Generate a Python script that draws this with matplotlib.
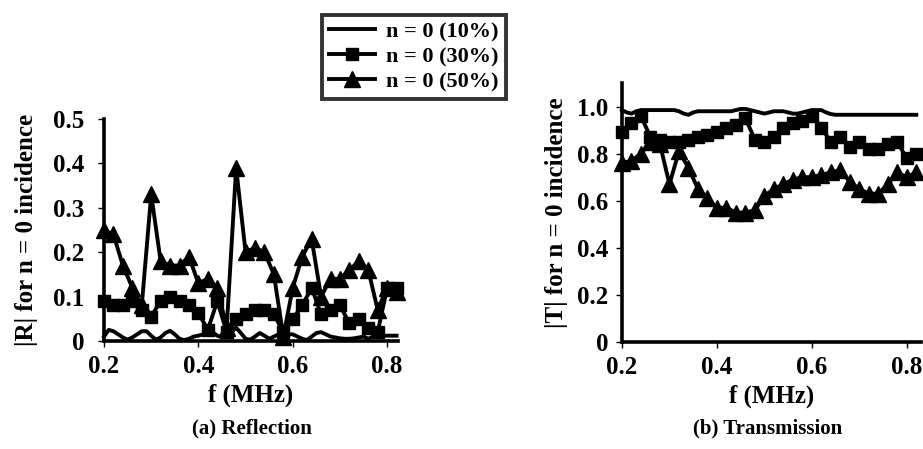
import numpy as np
import matplotlib
matplotlib.use("Agg")
import matplotlib.pyplot as plt

plt.rcParams['font.family'] = ['Liberation Serif', 'DejaVu Serif']
plt.rcParams['font.weight'] = 'bold'

# ---- data ----
f_fine = [0.20, 0.21, 0.22, 0.23, 0.24, 0.25, 0.26, 0.27, 0.28, 0.29, 0.30, 0.31,
          0.32, 0.33, 0.34, 0.35, 0.36, 0.37, 0.38, 0.39, 0.40, 0.41, 0.42, 0.43,
          0.44, 0.45, 0.46, 0.47, 0.48, 0.49, 0.50, 0.51, 0.52, 0.53, 0.54, 0.55,
          0.56, 0.57, 0.58, 0.59, 0.60, 0.61, 0.62, 0.63, 0.64, 0.65, 0.66, 0.67,
          0.68, 0.69, 0.70, 0.71, 0.72, 0.73, 0.74, 0.75, 0.76, 0.77, 0.78, 0.79,
          0.80, 0.81, 0.82]
R10 = [0.010, 0.025, 0.022, 0.015, 0.008, 0.003, 0.008, 0.015, 0.022, 0.022, 0.012, 0.003,
       0.008, 0.018, 0.023, 0.015, 0.005, 0.002, 0.005, 0.010, 0.012, 0.015, 0.020, 0.020,
       0.012, 0.008, 0.010, 0.020, 0.030, 0.018, 0.005, 0.003, 0.010, 0.018, 0.012, 0.005,
       0.010, 0.015, 0.010, 0.015, 0.015, 0.010, 0.005, 0.002, 0.010, 0.018, 0.020, 0.015,
       0.010, 0.008, 0.006, 0.005, 0.005, 0.006, 0.008, 0.010, 0.005, 0.010, 0.012, 0.012,
       0.012, 0.012, 0.012]
T10 = [0.985, 0.975, 0.970, 0.980, 0.985, 0.985, 0.985, 0.985, 0.985, 0.985, 0.985, 0.985,
       0.980, 0.970, 0.965, 0.975, 0.980, 0.980, 0.980, 0.980, 0.980, 0.980, 0.980, 0.980,
       0.985, 0.990, 0.990, 0.985, 0.980, 0.975, 0.970, 0.975, 0.980, 0.980, 0.980, 0.975,
       0.970, 0.970, 0.975, 0.980, 0.985, 0.985, 0.985, 0.975, 0.968, 0.965, 0.965, 0.965,
       0.965, 0.965, 0.965, 0.965, 0.965, 0.965, 0.965, 0.965, 0.965, 0.965, 0.965, 0.965,
       0.965, 0.965, 0.965]

f_mark = [0.20, 0.22, 0.24, 0.26, 0.28, 0.30, 0.32, 0.34, 0.36, 0.38, 0.40, 0.42,
          0.44, 0.46, 0.48, 0.50, 0.52, 0.54, 0.56, 0.58, 0.60, 0.62, 0.64, 0.66,
          0.68, 0.70, 0.72, 0.74, 0.76, 0.78, 0.80, 0.82]
R30 = [0.09, 0.08, 0.08, 0.09, 0.07, 0.055, 0.09, 0.10, 0.09, 0.08, 0.063, 0.025,
       0.09, 0.02, 0.05, 0.06, 0.07, 0.07, 0.06, 0.02, 0.05, 0.08, 0.12, 0.06,
       0.07, 0.08, 0.04, 0.05, 0.03, 0.02, 0.12, 0.12]
R50 = [0.25, 0.24, 0.17, 0.12, 0.08, 0.33, 0.18, 0.17, 0.17, 0.19, 0.13, 0.14,
       0.12, 0.03, 0.39, 0.20, 0.21, 0.20, 0.15, 0.01, 0.12, 0.19, 0.23, 0.10,
       0.14, 0.14, 0.16, 0.18, 0.16, 0.07, 0.12, 0.11]
T30 = [0.89, 0.93, 0.96, 0.87, 0.86, 0.85, 0.85, 0.86, 0.87, 0.88, 0.89, 0.91,
       0.92, 0.95, 0.86, 0.85, 0.87, 0.91, 0.93, 0.94, 0.96, 0.91, 0.85, 0.87,
       0.83, 0.85, 0.82, 0.82, 0.84, 0.85, 0.78, 0.80]
T50 = [0.76, 0.77, 0.80, 0.85, 0.84, 0.67, 0.81, 0.74, 0.65, 0.61, 0.57, 0.57,
       0.55, 0.55, 0.56, 0.62, 0.65, 0.67, 0.69, 0.70, 0.70, 0.71, 0.72, 0.73,
       0.68, 0.65, 0.63, 0.63, 0.67, 0.72, 0.70, 0.72]

labels = ["n = 0 (10%)", "n = 0 (30%)", "n = 0 (50%)"]
x_ticks = [0.2, 0.4, 0.6, 0.8]
R_ticks = [0, 0.1, 0.2, 0.3, 0.4, 0.5]
R_ticklabels = ["0", "0.1", "0.2", "0.3", "0.4", "0.5"]
T_ticks = [0, 0.2, 0.4, 0.6, 0.8, 1.0]
T_ticklabels = ["0", "0.2", "0.4", "0.6", "0.8", "1.0"]

W, H = 923, 449
fig = plt.figure(figsize=(W / 100, H / 100), dpi=100)

axR = fig.add_axes([104 / W, 1 - 341 / H, (398 - 104) / W, (341 - 119) / H])
axT = fig.add_axes([622 / W, 1 - 342 / H, (921 - 622) / W, (342 - 83) / H])

lw = 2.8
tick_fs = 18
sq_ms = 8
tri_ms = 11

def style(ax, ticks, ticklabels, ylim, xlim, ylabel, ypad, ylabelpad):
    ax.set_xlim(*xlim)
    ax.set_ylim(*ylim)
    for s in ['top', 'right']:
        ax.spines[s].set_visible(False)
    for s in ['left', 'bottom']:
        ax.spines[s].set_linewidth(2.6)
    ax.set_xticks(x_ticks)
    ax.set_xticklabels([f"{v:.1f}" for v in x_ticks], fontsize=tick_fs, fontweight='bold')
    ax.set_yticks(ticks)
    ax.set_yticklabels(ticklabels, fontsize=tick_fs, fontweight='bold')
    ax.tick_params(axis='both', direction='out', length=4, width=1)
    ax.tick_params(axis='x', pad=6)
    ax.tick_params(axis='y', pad=ypad)
    ax.set_ylabel(ylabel, fontsize=18, fontweight='bold', labelpad=ylabelpad)
    ax.set_xlabel("f (MHz)", fontsize=18, fontweight='bold', labelpad=4)

h1, = axR.plot(f_fine, R10, color='black', lw=lw, clip_on=False, label=labels[0])
h2, = axR.plot(f_mark, R30, color='black', lw=lw, marker='s', ms=sq_ms, clip_on=False, label=labels[1])
h3, = axR.plot(f_mark, R50, color='black', lw=lw, marker='^', ms=tri_ms, clip_on=False, label=labels[2])
style(axR, R_ticks, R_ticklabels, (0, 0.5), (0.2, 0.823), "|R| for n = 0 incidence", 10, 11)

axT.plot(f_fine, T10, color='black', lw=lw, clip_on=False)
axT.plot(f_mark, T30, color='black', lw=lw, marker='s', ms=sq_ms, clip_on=False)
axT.plot(f_mark, T50, color='black', lw=lw, marker='^', ms=tri_ms, clip_on=False)
style(axT, T_ticks, T_ticklabels, (0, 1.1), (0.2, 0.83), "|T| for n = 0 incidence", 6, 6)

leg = fig.legend(handles=[h1, h2, h3], labels=labels, loc='upper left',
                 bbox_to_anchor=(322 / W, 1 - 15 / H), borderaxespad=0,
                 prop={'family': 'Liberation Serif', 'weight': 'bold', 'size': 16},
                 frameon=True, fancybox=False, handlelength=2.1, handletextpad=0.5,
                 labelspacing=0.2, borderpad=0.3)
leg.get_frame().set_edgecolor('black')
leg.get_frame().set_linewidth(2.8)

fig.text(252 / W, 1 - 428 / H, "(a) Reflection", ha='center', va='center',
         fontsize=15, fontweight='bold')
fig.text(768 / W, 1 - 428 / H, "(b) Transmission", ha='center', va='center',
         fontsize=15, fontweight='bold')

fig.savefig("out.png", dpi=100)
